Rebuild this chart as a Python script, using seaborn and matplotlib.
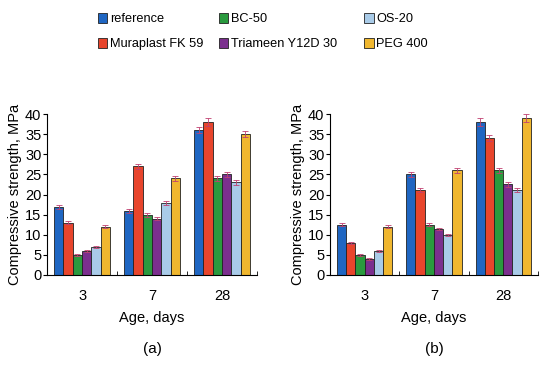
import matplotlib
matplotlib.use("Agg")
import matplotlib.pyplot as plt
import seaborn as sns
import pandas as pd

ages = ["3", "7", "28"]
series = ["reference", "Muraplast FK 59", "BC-50", "Triameen Y12D 30", "OS-20", "PEG 400"]
colors = ["#1f66c2", "#e8452c", "#2a9a3e", "#7b2f8e", "#a9cbe8", "#f0b72f"]

# compressive strength, MPa  (rows: series, cols: age)
vals_a = [[17, 16, 36],
          [13, 27, 38],
          [5, 15, 24],
          [6, 14, 25],
          [7, 18, 23],
          [12, 24, 35]]
vals_b = [[12.5, 25, 38],
          [8, 21, 34],
          [5, 12.5, 26],
          [4, 11.5, 22.5],
          [6, 10, 21],
          [12, 26, 39]]
err_a = [[0.5, 0.5, 0.8],
         [0.4, 0.7, 0.9],
         [0.3, 0.5, 0.6],
         [0.3, 0.4, 0.6],
         [0.3, 0.5, 0.6],
         [0.3, 0.6, 0.8]]
err_b = [[0.4, 0.6, 0.9],
         [0.3, 0.5, 0.8],
         [0.3, 0.4, 0.6],
         [0.3, 0.3, 0.6],
         [0.3, 0.3, 0.5],
         [0.3, 0.6, 0.9]]

plt.rcParams['font.family'] = ['Liberation Sans', 'DejaVu Sans']

fig = plt.figure(figsize=(5.5, 3.65), dpi=100)
ax1 = fig.add_axes([0.0855, 0.2466, 0.382, 0.441])
ax2 = fig.add_axes([0.600, 0.2466, 0.378, 0.441])


def make_df(vals, errs):
    rows = []
    for s, v, e in zip(series, vals, errs):
        for a, y, er in zip(ages, v, e):
            rows.append({"age": a, "series": s, "val": y, "err": er})
    return pd.DataFrame(rows)


for ax, vals, errs, tag in [(ax1, vals_a, err_a, "(a)"), (ax2, vals_b, err_b, "(b)")]:
    df = make_df(vals, errs)
    sns.barplot(data=df, x="age", y="val", hue="series", order=ages,
                hue_order=series, palette=colors, width=0.8, ax=ax,
                edgecolor="#222222", linewidth=0.6, errorbar=None, saturation=1)
    # error bars on each bar
    patches = [p for p in ax.patches if p.get_height() > 0]
    for p, er in zip(patches, [e for s in errs for e in s]):
        ax.errorbar(p.get_x() + p.get_width() / 2, p.get_height(), yerr=er,
                    color="#c04070", capsize=2, elinewidth=0.6, capthick=0.6, fmt="none")
    ax.set_ylim(0, 40)
    ax.set_xlim(-0.5, 2.5)
    ax.set_yticks(range(0, 41, 5))
    ax.spines["top"].set_visible(False)
    ax.spines["right"].set_visible(False)
    ax.tick_params(axis="y", direction="out", length=3, labelsize=10.5, pad=1)
    ax.tick_params(axis="x", which="major", length=0, labelsize=10.5, pad=10)
    ax.set_xticks([0.5, 1.5, 2.5], minor=True)
    ax.tick_params(axis="x", which="minor", direction="in", length=3)
    ax.set_xlabel("Age, days", fontsize=10.5, labelpad=6)
    ax.set_ylabel("Compressive strength, MPa", fontsize=10.5, labelpad=2)
    ax.text(0.5, -0.46, tag, transform=ax.transAxes, ha="center", va="center", fontsize=11)
    ax.get_legend().remove()

handles, labels = ax1.get_legend_handles_labels()
# legend laid out as three columns of two entries
for i, x0 in enumerate([0.157, 0.377, 0.641]):
    fig.legend(handles[2 * i:2 * i + 2], labels[2 * i:2 * i + 2], loc="upper left",
               bbox_to_anchor=(x0, 0.995), frameon=False, fontsize=9.2,
               handlelength=0.75, handleheight=0.75, handletextpad=0.2,
               labelspacing=1.0)

fig.savefig("out.png", dpi=100)
